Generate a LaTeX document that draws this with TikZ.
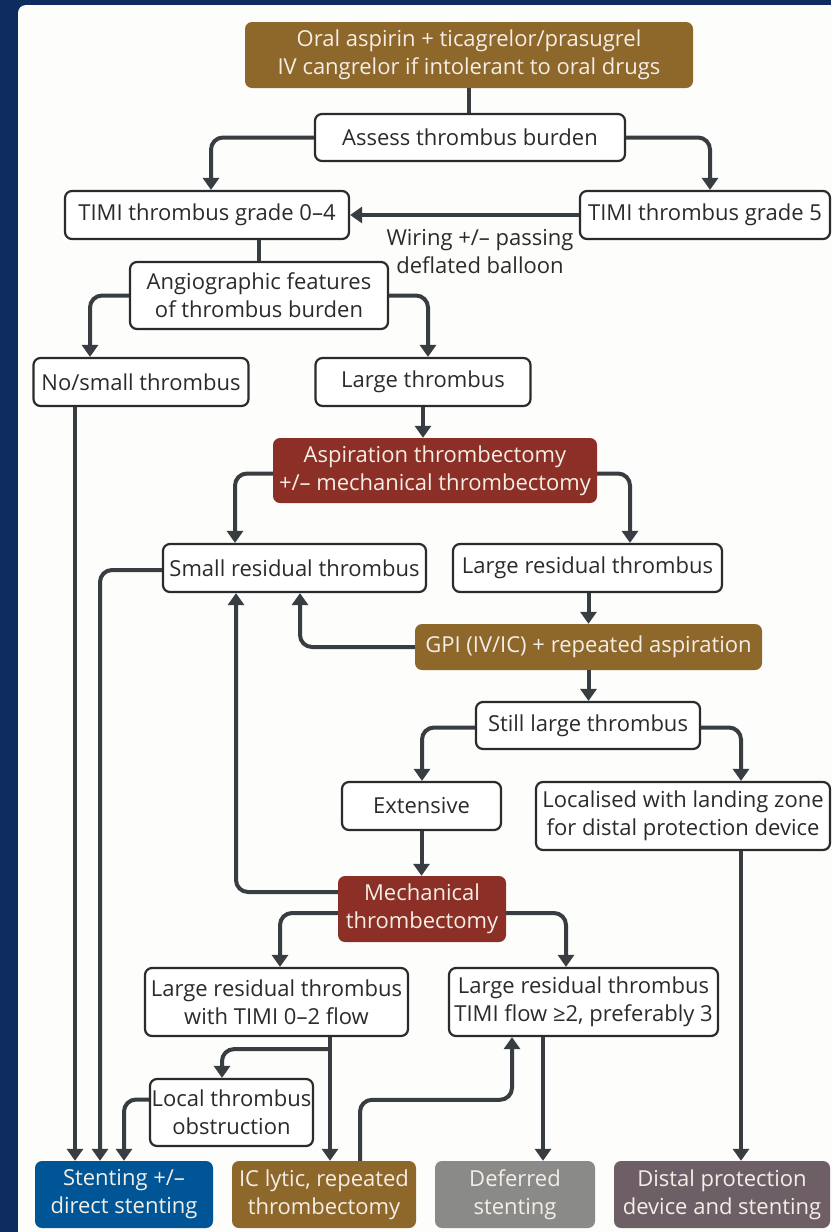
\documentclass[tikz,border=0pt]{standalone}
\usepackage{fontspec}
\setmainfont{Open Sans}
\usetikzlibrary{arrows.meta,calc}
\definecolor{navy}{HTML}{0E2C60}
\definecolor{panel}{HTML}{FDFDFB}
\definecolor{brownc}{HTML}{8E672B}
\definecolor{redc}{HTML}{8C2F26}
\definecolor{bluec}{HTML}{005596}
\definecolor{grayc}{HTML}{8A8A88}
\definecolor{mauvec}{HTML}{6E5F66}
\definecolor{linec}{HTML}{383D42}
\definecolor{txt}{HTML}{2B2B2B}
\definecolor{wtxt}{HTML}{F4EEE6}
\begin{document}
\begin{tikzpicture}[x=1pt,y=-1pt,
  every node/.style={font=\fontsize{22pt}{28pt}\selectfont, align=center, inner sep=0pt},
  wbox/.style={draw=txt, line width=2.2pt, fill=white, rounded corners=7pt, text=txt},
  cbox/.style={rounded corners=7pt, text=wtxt},
  arr/.style={draw=linec, line width=4pt, rounded corners=12pt, -{Triangle[length=12pt,width=16pt]}},
  ln/.style={draw=linec, line width=4pt}]
\useasboundingbox (0,0) rectangle (831,1232);
\fill[navy] (0,0) rectangle (831,1232);
\fill[panel, rounded corners=8pt] (18,5) rectangle (850,1250);

% nodes
\node[cbox, fill=brownc, minimum width=448pt, minimum height=66pt] (top) at (469,55) {Oral aspirin + ticagrelor/prasugrel\\IV cangrelor if intolerant to oral drugs};
\node[wbox, minimum width=310pt, minimum height=47pt] (assess) at (470,137.5) {Assess thrombus burden};
\node[wbox, minimum width=284pt, minimum height=48pt] (g04) at (207,215) {TIMI thrombus grade 0–4};
\node[wbox, minimum width=250pt, minimum height=48pt] (g5) at (705,215) {TIMI thrombus grade 5};
\node[text=txt] (wiring) at (480,252) {Wiring +/– passing\\deflated balloon};
\node[wbox, minimum width=258pt, minimum height=67pt] (angio) at (259,295.5) {Angiographic features\\of thrombus burden};
\node[wbox, minimum width=215pt, minimum height=48pt] (nosmall) at (141,382) {No/small thrombus};
\node[wbox, minimum width=215pt, minimum height=48pt] (large) at (423,382) {Large thrombus};
\node[cbox, fill=redc, minimum width=324pt, minimum height=65pt] (asp) at (435,470.5) {Aspiration thrombectomy\\+/– mechanical thrombectomy};
\node[wbox, minimum width=263pt, minimum height=48pt] (smallres) at (294.5,568) {Small residual thrombus};
\node[wbox, minimum width=269pt, minimum height=48pt] (largeres) at (587.5,568) {Large residual thrombus};
\node[cbox, fill=brownc, minimum width=347pt, minimum height=46pt] (gpi) at (588.5,647) {GPI (IV/IC) + repeated aspiration};
\node[wbox, minimum width=224pt, minimum height=47pt] (still) at (588,725.5) {Still large thrombus};
\node[wbox, minimum width=159pt, minimum height=48pt] (ext) at (421.5,806) {Extensive};
\node[wbox, minimum width=294pt, minimum height=68pt] (local) at (683,816) {Localised with landing zone\\for distal protection device};
\node[cbox, fill=redc, minimum width=168pt, minimum height=66pt] (mech) at (422,909) {Mechanical\\thrombectomy};
\node[wbox, minimum width=263pt, minimum height=68pt] (lr02) at (276.5,1002) {Large residual thrombus\\with TIMI 0–2 flow};
\node[wbox, minimum width=269pt, minimum height=68pt] (lr23) at (583.5,1002) {Large residual thrombus\\TIMI flow ≥2, preferably 3};
\node[wbox, minimum width=163pt, minimum height=67pt] (lto) at (231.5,1112.5) {Local thrombus\\obstruction};
\node[cbox, fill=bluec, minimum width=178pt, minimum height=67pt] (stent) at (124,1194.5) {Stenting +/–\\direct stenting};
\node[cbox, fill=brownc, minimum width=184pt, minimum height=67pt] (iclytic) at (324,1194.5) {IC lytic, repeated\\thrombectomy};
\node[cbox, fill=grayc, minimum width=160pt, minimum height=67pt] (defer) at (515,1194.5) {Deferred\\stenting};
\node[cbox, fill=mauvec, minimum width=216pt, minimum height=67pt] (distal) at (722,1194.5) {Distal protection\\device and stenting};

% connectors
\draw[ln] (top.south) -- (top.south |- assess.north);
\draw[arr] (assess.west) -| ([xshift=4pt]g04.north);
\draw[arr] (assess.east) -| ([xshift=5pt]g5.north);
\draw[arr, rounded corners=0pt] (g5.west) -- (g04.east);
\draw[ln] (angio.north) -- (angio.north |- g04.south);
\draw[arr] (angio.west) -| ([xshift=-51pt]nosmall.north);
\draw[arr] (angio.east) -| ([xshift=5pt]large.north);
\draw[arr] ([xshift=-66pt]nosmall.south) -- ([xshift=-66pt]nosmall.south |- stent.north);
\draw[arr] (large.south) -- (large.south |- asp.north);
\draw[arr] ([yshift=-3pt]asp.west) -| ([xshift=-59.5pt]smallres.north);
\draw[arr] ([yshift=-3pt]asp.east) -| ([xshift=42.5pt]largeres.north);
\draw[arr] ([yshift=-2pt]smallres.west) -| ([xshift=-24pt]stent.north);
\draw[arr] ([xshift=1pt]largeres.south) -- ([xshift=1pt]largeres.south |- gpi.north);
\draw[arr] (gpi.west) -| ([xshift=5.5pt]smallres.south);
\draw[arr] (gpi.south) -- (gpi.south |- still.north);
\draw[arr] ([yshift=-2pt]still.west) -| ([xshift=0.5pt]ext.north);
\draw[arr] ([yshift=-2pt]still.east) -| ([xshift=58pt]local.north);
\draw[arr] (ext.south) -- (ext.south |- mech.north);
\draw[arr] ([xshift=58pt]local.south) -- ([xshift=58pt]local.south |- distal.north);
\draw[arr] ([yshift=17pt]mech.west) -| ([xshift=-58.5pt]smallres.south);
\draw[arr] ([yshift=-4pt]mech.west) -| ([xshift=3.5pt]lr02.north);
\draw[arr] ([yshift=-4pt]mech.east) -| ([xshift=-17.5pt]lr02.north -| lr23.north);
\draw[arr] ([xshift=53.5pt]lr02.south) -- ([xshift=53.5pt]lr02.south |- iclytic.north);
\draw[arr] ([xshift=53.5pt,yshift=-12pt]lr02.south) -| ([xshift=-9.5pt]lto.north);
\draw[arr] ([yshift=13pt]lto.west) -| (stent.north);
\draw[arr] ([xshift=36pt]iclytic.north) -- ([xshift=36pt,yshift=61pt]iclytic.north) -| ([xshift=-71.5pt]lr23.south);
\draw[arr] ([xshift=-40.5pt]lr23.south) -- ([xshift=-40.5pt]lr23.south |- defer.north);
\end{tikzpicture}
\end{document}
